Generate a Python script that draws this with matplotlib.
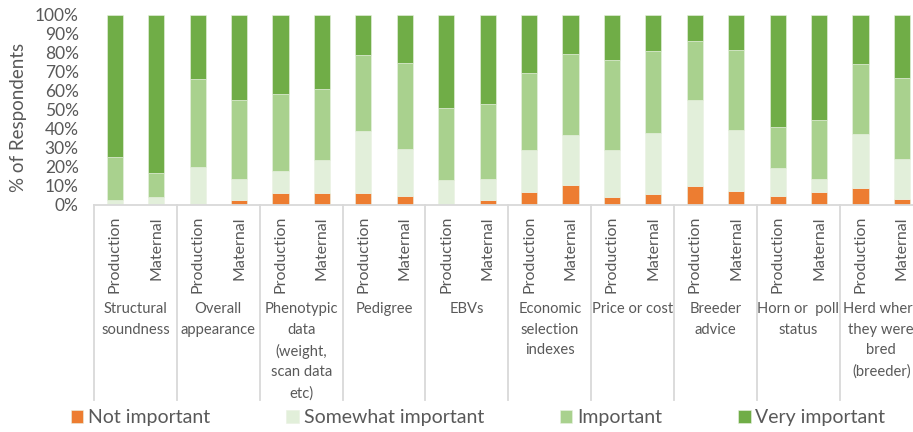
import matplotlib
matplotlib.use("Agg")
import matplotlib.pyplot as plt
import matplotlib.transforms as mtransforms
import numpy as np

plt.rcParams['font.family'] = ['Lato', 'DejaVu Sans']

categories = ["Structural\nsoundness", "Overall\nappearance",
              "Phenotypic\ndata\n(weight,\nscan data\netc)", "Pedigree", "EBVs",
              "Economic\nselection\nindexes", "Price or cost", "Breeder\nadvice",
              "Horn or  poll\nstatus", "Herd where\nthey were\nbred\n(breeder)"]
sub_labels = ["Production", "Maternal"]

# cumulative tops (percent)
not_imp   = [0.0, 0.0, 0.7, 2.6, 6.1, 6.5, 6.1, 4.9, 0.0, 2.6,
             6.8, 10.4, 4.2, 5.9, 10.2, 7.4, 4.9, 7.0, 8.8, 3.3]
somewhat_top = [2.6, 4.2, 20.2, 13.5, 18.1, 23.5, 38.9, 29.3, 13.2, 13.7,
                29.1, 37.0, 28.9, 37.9, 55.3, 39.5, 19.5, 13.5, 37.5, 24.4]
important_top = [25.3, 16.8, 66.3, 55.3, 58.4, 60.9, 78.9, 74.6, 51.1, 53.3,
                 69.5, 79.3, 76.3, 81.1, 86.3, 81.6, 41.1, 44.6, 74.2, 67.0]

not_imp = np.array(not_imp) / 100
somewhat = np.array(somewhat_top) / 100 - not_imp
important = np.array(important_top) / 100 - np.array(somewhat_top) / 100
very = 1 - np.array(important_top) / 100

series = [("Not important", not_imp, "#ED7D31"),
          ("Somewhat important", somewhat, "#E2EFDA"),
          ("Important", important, "#A9D18E"),
          ("Very important", very, "#70AD47")]

fig = plt.figure(figsize=(9.13, 4.32), dpi=100)
ax = fig.add_axes([94/913, 1-205/432, (922.7-94)/913, 190/432])

x = np.arange(len(not_imp))
bottom = np.zeros(len(x))
handles = []
for name, vals, col in series:
    h = ax.bar(x, vals, bottom=bottom, width=0.39, color=col, edgecolor="#EAF2E3",
               linewidth=0.4, label=name)
    handles.append(h)
    bottom += vals

ax.set_xlim(-0.5, len(x) - 0.5)
ax.set_ylim(0, 1)
ax.set_yticks(np.arange(0, 1.01, 0.1))
ax.set_yticklabels([f"{int(round(v*100))}%" for v in np.arange(0, 1.01, 0.1)],
                   fontsize=12.5, color="#595959")
ax.tick_params(axis='y', length=0, pad=11)
ax.set_ylabel("% of Respondents", fontsize=13.5, color="#595959")
ax.yaxis.label.set_va('center')
ax.yaxis.set_label_coords((19 - 94)/828.7, 0.46)

ax.set_xticks(x)
ax.set_xticklabels([sub_labels[i % 2] for i in x], rotation=90, fontsize=11.5,
                   color="#595959", va='top')
ax.tick_params(axis='x', length=0, pad=8)

for s in ["top", "right", "left"]:
    ax.spines[s].set_visible(False)
ax.spines["bottom"].set_color("#D9D9D9")
ax.spines["bottom"].set_linewidth(1.3)

trans = mtransforms.blended_transform_factory(ax.transData, ax.transAxes)
for g in range(len(categories) + 1):
    xp = 2 * g - 0.5
    ax.plot([xp, xp], [0, -195/190], transform=trans, color="#D9D9D9",
            lw=1.3, clip_on=False)
for g, cat in enumerate(categories):
    ax.text(2 * g + 0.5, -(302 - 205)/190, cat, transform=trans, ha='center',
            va='top', fontsize=10.6, color="#595959", linespacing=1.6)

fig.legend(handles=handles, loc='center', bbox_to_anchor=(478/913, 1-418/432),
           ncol=4, frameon=False, fontsize=14, handlelength=0.65, handleheight=0.65,
           handletextpad=0.25, columnspacing=3.9, labelcolor="#595959")

fig.savefig("out.png", dpi=100)
